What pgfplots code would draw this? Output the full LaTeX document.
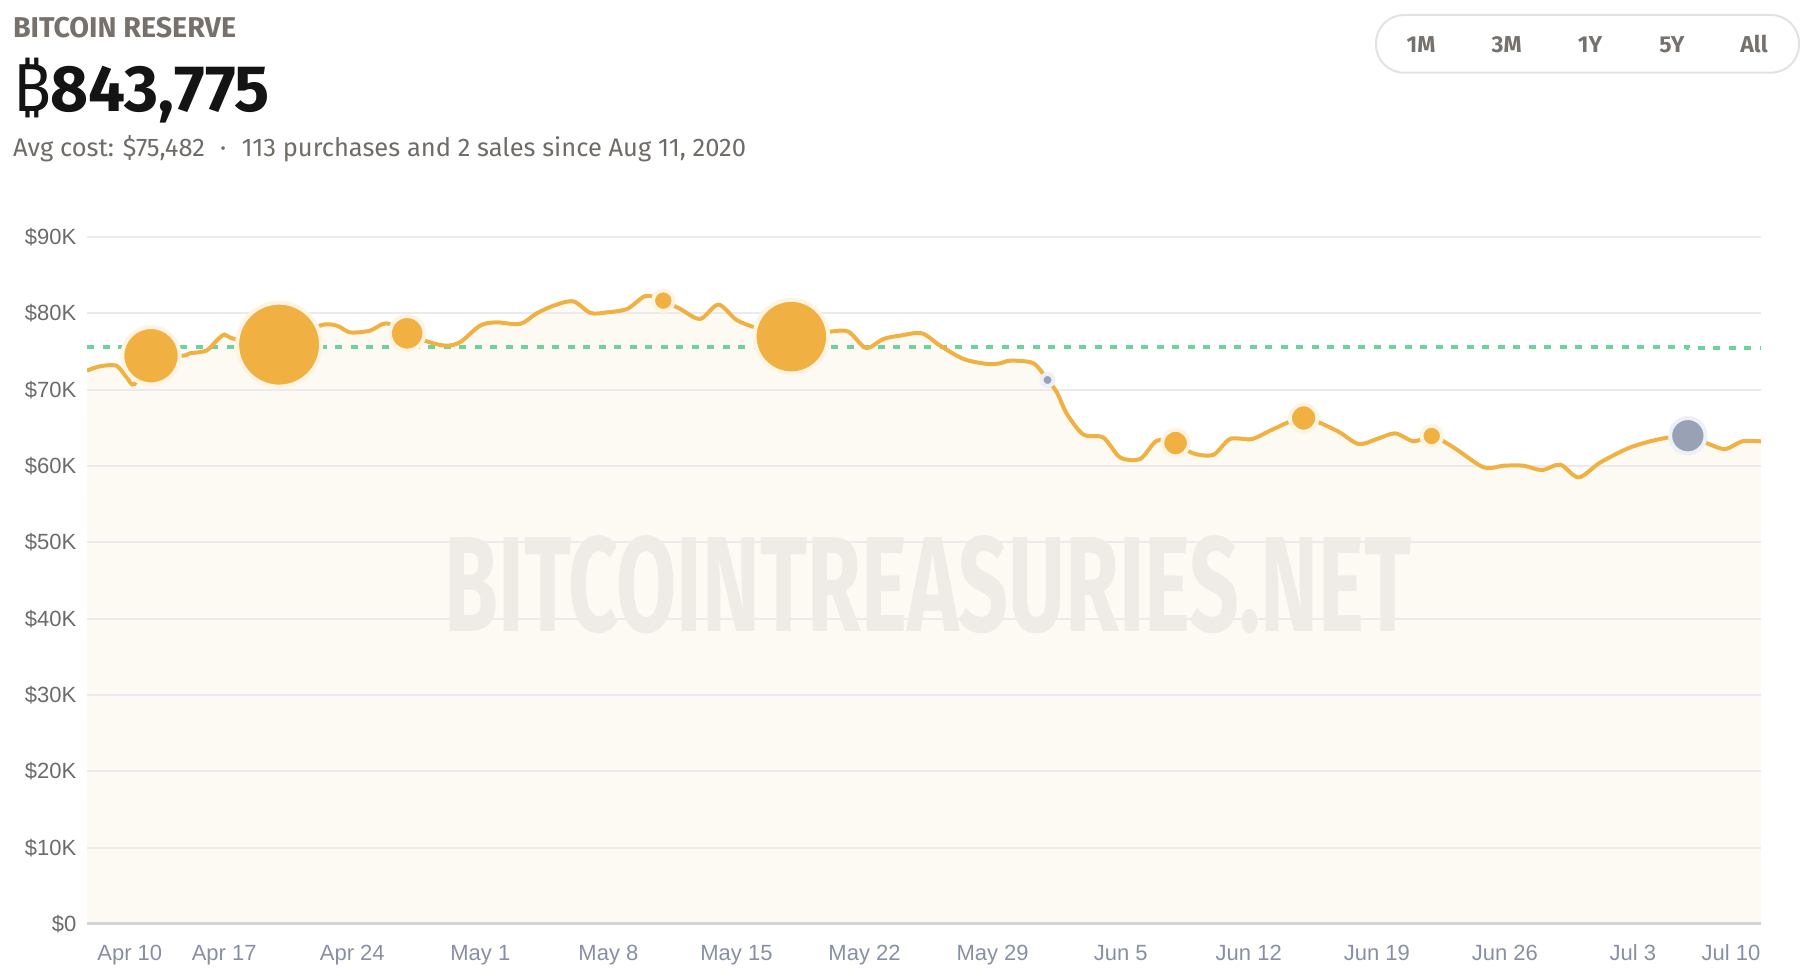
\documentclass[border=0pt]{standalone}
\usepackage{fontspec}
\usepackage{graphicx}
\usepackage{pgfplots}
\pgfplotsset{compat=1.18}
\usepackage{pgfplotstable}
\setmainfont{Fira Sans}
\newfontfamily\tickfont{Liberation Sans}
\newfontfamily\symfont{Noto Sans}

\definecolor{btcorange}{HTML}{F0B142}
\definecolor{cream}{HTML}{FDFAF3}
\definecolor{halo}{HTML}{FDF4E3}
\definecolor{grayb}{HTML}{99A1B4}
\definecolor{grayhalo}{HTML}{EDF1F7}
\definecolor{avggreen}{HTML}{6DD39E}
\definecolor{gridc}{HTML}{EBEBEE}
\definecolor{basec}{HTML}{D3D5DA}
\definecolor{ytickc}{HTML}{6B6B6B}
\definecolor{xtickc}{HTML}{8790A3}
\definecolor{headgray}{HTML}{76716C}
\definecolor{subgray}{HTML}{6F6B67}
\definecolor{btnborder}{HTML}{E2E2E2}
\definecolor{wm}{HTML}{EFEBE6}

% days since Apr 10, price in USD
\pgfplotstableread{
day val
-0.5 72490
0.19 73050
1.10 73150
1.67 71610
2.10 70750
3.00 74450
4.76 74450
5.11 74760
6.02 75110
6.58 76420
7.02 77210
7.58 76640
10.00 75900
12.23 78390
13.15 78390
13.87 77510
14.96 77730
15.86 78690
17.00 77380
18.07 76330
19.08 75770
19.88 76200
20.99 78390
21.89 78820
23.17 78610
24.08 80000
25.01 81010
26.08 81570
27.02 80050
27.92 80130
29.02 80580
29.93 82190
30.43 82190
31.00 81660
31.92 80580
33.01 79270
34.01 81140
35.01 79130
36.11 78090
38.00 76950
40.12 77600
41.12 77600
42.08 75460
43.03 76640
43.94 77080
45.13 77380
46.13 75770
47.41 74020
48.69 73370
49.42 73450
49.96 73800
51.23 73450
52.00 71270
52.51 69650
53.06 66820
53.97 64100
55.04 63750
55.97 61130
57.06 60920
57.98 63320
59.00 63010
59.97 61650
61.07 61480
61.98 63540
63.18 63540
64.36 64850
66.00 66290
67.80 64630
69.00 62880
70.00 63540
71.01 64270
72.02 63230
73.00 63930
74.19 62440
75.84 59820
76.93 60040
78.02 60040
79.02 59470
80.03 60170
81.03 58510
82.22 60470
83.86 62440
85.49 63540
87.00 63970
88.14 62880
89.05 62220
89.97 63230
91.00 63230
}\pricedata

\begin{document}
\begin{tikzpicture}[x=1pt,y=1pt]

\begin{axis}[
  set layers,
  at={(87pt,50pt)}, anchor=south west,
  scale only axis, width=1674pt, height=687pt,
  xmin=-0.5, xmax=91, ymin=0, ymax=90000,
  scaled y ticks=false, scaled x ticks=false,
  axis line style={draw=none},
  major tick length=0pt,
  tick style={draw=none},
  ytick={0,10000,20000,30000,40000,50000,60000,70000,80000,90000},
  yticklabels={\$0,\$10K,\$20K,\$30K,\$40K,\$50K,\$60K,\$70K,\$80K,\$90K},
  xtick={1.84,7,14,21,28,35,42,49,56,63,70,77,84,89.36},
  xticklabels={Apr 10,Apr 17,Apr 24,May 1,May 8,May 15,May 22,May 29,Jun 5,Jun 12,Jun 19,Jun 26,Jul 3,Jul 10},
  ymajorgrids,
  grid style={draw=gridc, line width=2pt},
  extra y ticks={0},
  extra y tick labels={},
  extra y tick style={grid style={draw=basec, line width=3pt}},
  yticklabel style={anchor=east, inner sep=0pt, xshift=-10.5pt, text=ytickc, font=\tickfont\fontsize{22}{22}\selectfont},
  xticklabel style={anchor=base, inner sep=0pt, yshift=-37pt, text=xtickc, font=\tickfont\fontsize{22}{22}\selectfont},
  clip=true,
]
\addplot[draw=none, fill=cream, smooth, tension=0.5, on layer=axis background] table[x=day,y=val] {\pricedata} \closedcycle;
\node[on layer=axis background, inner sep=0pt, text=wm] at (rel axis cs:0.5024,0.4934) {\resizebox{966pt}{96pt}{\bfseries BITCOINTREASURIES.NET}};
\addplot[avggreen, line width=4pt, dash pattern=on 7pt off 8.5pt] coordinates {(-0.5,75650) (87,75650) (87,75482) (91,75482)};
\addplot[btcorange, line width=4pt, smooth, tension=0.5] table[x=day,y=val] {\pricedata};
% purchases (orange) and sales (gray); mark size = visible radius + 2pt
\addplot[only marks, mark=*, mark size=28.7pt, mark options={draw=halo, fill=btcorange, line width=4pt}] coordinates {(3,74450)};
\addplot[only marks, mark=*, mark size=42pt, mark options={draw=halo, fill=btcorange, line width=4pt}] coordinates {(10,75900)};
\addplot[only marks, mark=*, mark size=17.3pt, mark options={draw=halo, fill=btcorange, line width=4pt}] coordinates {(17,77380)};
\addplot[only marks, mark=*, mark size=10.3pt, mark options={draw=halo, fill=btcorange, line width=4pt}] coordinates {(31,81660)};
\addplot[only marks, mark=*, mark size=36.8pt, mark options={draw=halo, fill=btcorange, line width=4pt}] coordinates {(38,76950)};
\addplot[only marks, mark=*, mark size=6pt, mark options={draw=grayhalo, fill=grayb, line width=4pt}] coordinates {(52,71270)};
\addplot[only marks, mark=*, mark size=13.3pt, mark options={draw=halo, fill=btcorange, line width=4pt}] coordinates {(59,63010)};
\addplot[only marks, mark=*, mark size=13.7pt, mark options={draw=halo, fill=btcorange, line width=4pt}] coordinates {(66,66290)};
\addplot[only marks, mark=*, mark size=10.3pt, mark options={draw=halo, fill=btcorange, line width=4pt}] coordinates {(73,63930)};
\addplot[only marks, mark=*, mark size=17.7pt, mark options={draw=grayhalo, fill=grayb, line width=4pt}] coordinates {(87,63970)};
\end{axis}

% header
\node[anchor=base west, inner sep=0pt, text=headgray] at (12.8,936.7) {\resizebox{223pt}{!}{\bfseries BITCOIN RESERVE}};
\node[anchor=base west, inner sep=0pt, text=black!92] at (12.8,862.3) {\resizebox{257pt}{!}{\bfseries{\symfont ₿}843,775}};
\node[anchor=base west, inner sep=0pt, text=subgray] at (12.8,817.3) {\resizebox{733pt}{!}{Avg cost: \$75,482\hspace{0.6em}·\hspace{0.6em}113 purchases and 2 sales since Aug 11, 2020}};

% range buttons
\draw[btnborder, line width=2pt, rounded corners=28pt] (1376,901.3) rectangle (1799,959);
\foreach \lab/\xx in {1M/1421,3M/1506.7,1Y/1590,5Y/1672,All/1754}{
  \node[text=headgray, inner sep=0pt, font=\bfseries\fontsize{23}{23}\selectfont] at (\xx,929.7) {\lab};
}
\pgfresetboundingbox
\path[use as bounding box] (0,0) rectangle (1812,974);
\end{tikzpicture}
\end{document}
